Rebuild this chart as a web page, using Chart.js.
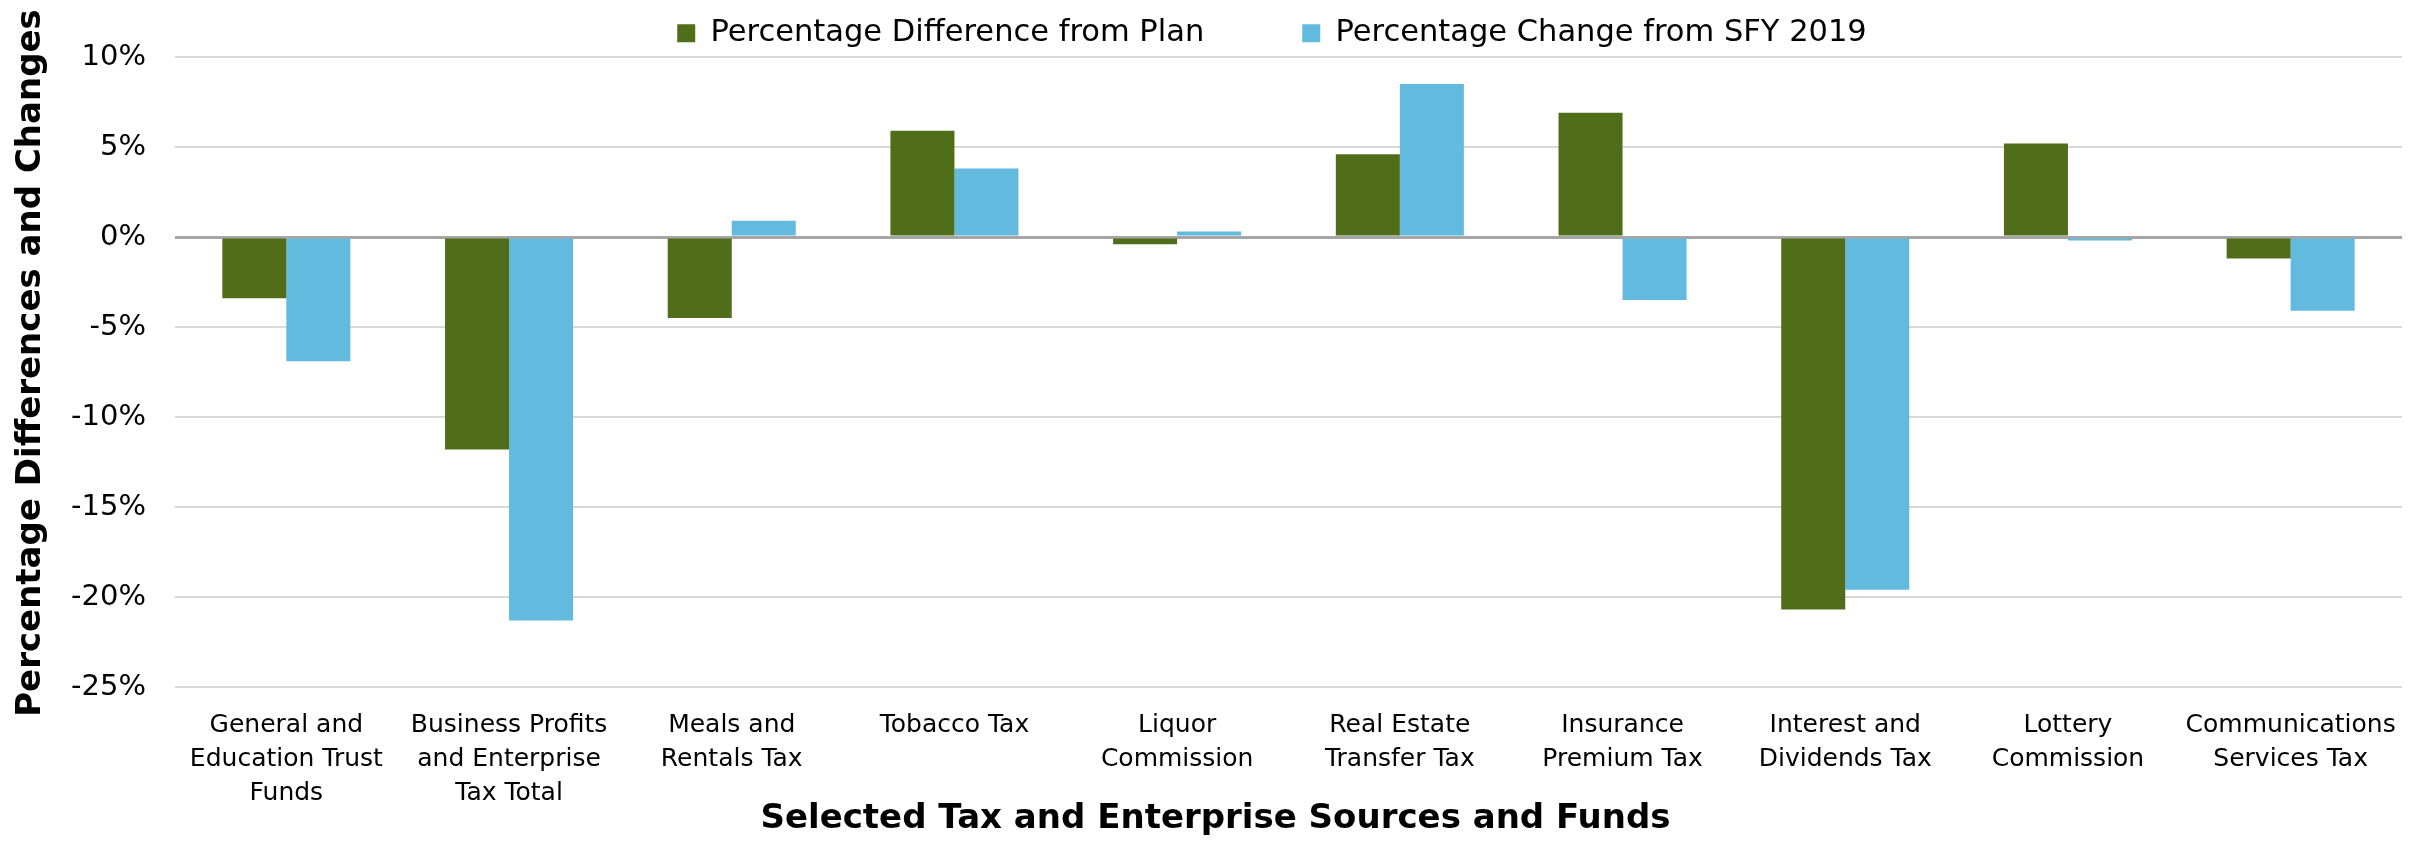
<!DOCTYPE html>
<html>
<head>
<meta charset="utf-8">
<script src="https://cdn.jsdelivr.net/npm/chart.js@4.4.1/dist/chart.umd.min.js"></script>
<style>
  body { margin: 0; background: #fff; }
</style>
</head>
<body>
<canvas id="revenueChart" width="2425" height="842"></canvas>
<script>
// Categories (multi-line labels as shown under the axis)
const categories = [
    ["General and", "Education Trust", "Funds"],
    ["Business Profits", "and Enterprise", "Tax Total"],
    ["Meals and", "Rentals Tax"],
    ["Tobacco Tax"],
    ["Liquor", "Commission"],
    ["Real Estate", "Transfer Tax"],
    ["Insurance", "Premium Tax"],
    ["Interest and", "Dividends Tax"],
    ["Lottery", "Commission"],
    ["Communications", "Services Tax"]
];

// Series values, in percent
const diffFromPlan = [-3.4, -11.8, -4.5, 5.9, -0.4, 4.6, 6.9, -20.7, 5.2, -1.2];
const changeFromSFY2019 = [-6.9, -21.3, 0.9, 3.8, 0.3, 8.5, -3.5, -19.6, -0.2, -4.1];

// Y axis range / ticks
const yMin = -25;
const yMax = 10;
const yStep = 5;

const FONT = "'DejaVu Sans', Verdana, sans-serif";

// Legend: wide gap between the two items, but keep the box short
const legendTweak = {
    id: "legendTweak",
    beforeInit(chart) {
        const legend = chart.legend;
        const fit = legend.fit;
        legend.fit = function () {
            fit.call(this);
            this.height = 57;
        };
        const innerDraw = legend._draw;
        legend._draw = function () {
            const ctx = this.ctx;
            ctx.save();
            ctx.translate(71, -80);
            innerDraw.call(this);
            ctx.restore();
        };
    }
};

// move an axis title by (dx, dy) without touching the layout
function shiftTitle(scale, dx, dy) {
    if (scale._titleShifted) return;
    const drawTitle = scale.drawTitle;
    scale.drawTitle = function () {
        this.ctx.save();
        this.ctx.translate(dx, dy);
        drawTitle.call(this);
        this.ctx.restore();
    };
    scale._titleShifted = true;
}

const chartEl = document.getElementById("revenueChart");

new Chart(chartEl, {
    type: "bar",
    data: {
        labels: categories,
        datasets: [
            {
                label: "Percentage Difference from Plan",
                data: diffFromPlan,
                backgroundColor: "#506E1A",
                borderWidth: 0
            },
            {
                label: "Percentage Change from SFY 2019",
                data: changeFromSFY2019,
                backgroundColor: "#63BADF",
                borderWidth: 0
            }
        ]
    },
    options: {
        responsive: false,
        animation: false,
        devicePixelRatio: 1,
        layout: {
            padding: { left: 0, right: 23, top: 0, bottom: 0 }
        },
        datasets: {
            bar: {
                barPercentage: 1,
                categoryPercentage: 0.575
            }
        },
        plugins: {
            legend: {
                position: "top",
                labels: {
                    boxWidth: 18,
                    boxHeight: 18,
                    padding: 98,
                    color: "#000",
                    font: { family: FONT, size: 30.5 }
                }
            },
            tooltip: { enabled: false }
        },
        scales: {
            x: {
                grid: { display: false, drawTicks: false },
                border: { display: false },
                ticks: {
                    color: "#000",
                    padding: 21,
                    maxRotation: 0,
                    autoSkip: false,
                    font: { family: FONT, size: 25, lineHeight: "34px" }
                },
                title: {
                    display: true,
                    text: "Selected Tax and Enterprise Sources and Funds",
                    color: "#000",
                    padding: { top: 0, bottom: 2 },
                    font: { family: FONT, size: 34, weight: "bold" }
                },
                afterFit(scale) {
                    scale.height = 155;
                    shiftTitle(scale, -73, 0);
                }
            },
            y: {
                min: yMin,
                max: yMax,
                grid: {
                    drawTicks: false,
                    color: ctx => (ctx.tick && ctx.tick.value === 0 ? "#a6a6a6" : "#d9d9d9"),
                    lineWidth: ctx => (ctx.tick && ctx.tick.value === 0 ? 3 : 2)
                },
                border: { display: false },
                ticks: {
                    stepSize: yStep,
                    color: "#000",
                    padding: 29,
                    font: { family: FONT, size: 29 },
                    callback: v => v + "%"
                },
                title: {
                    display: true,
                    text: "Percentage Differences and Changes",
                    color: "#000",
                    padding: { top: 11, bottom: 0 },
                    font: { family: FONT, size: 34, weight: "bold" }
                },
                afterFit(scale) {
                    scale.width = 175;
                    shiftTitle(scale, 0, -9);
                }
            }
        }
    },
    plugins: [legendTweak]
});
</script>
</body>
</html>
